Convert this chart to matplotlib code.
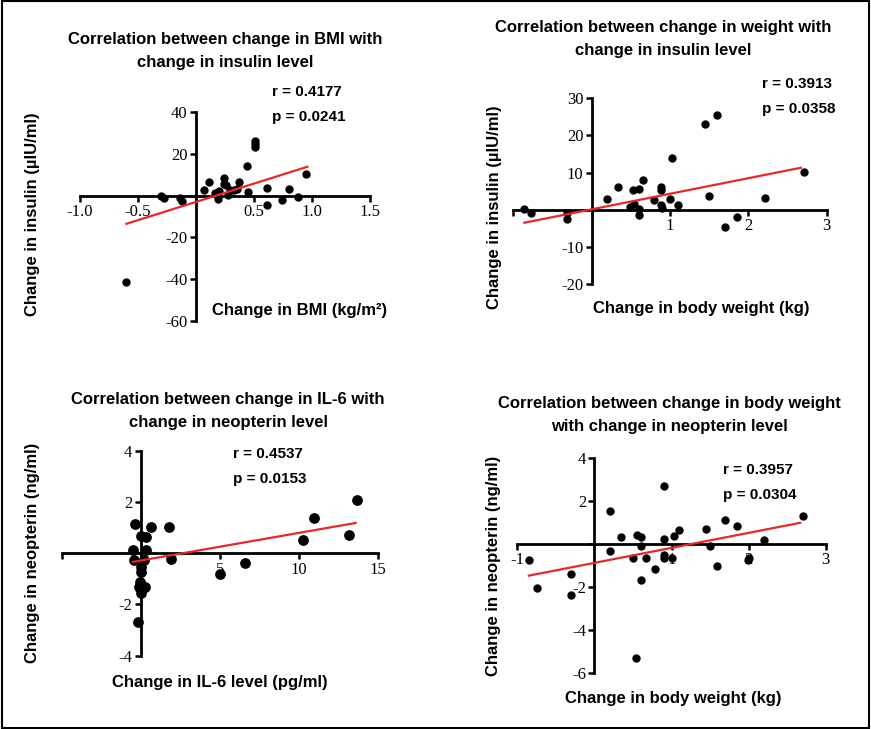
import matplotlib
matplotlib.use("Agg")
import matplotlib.pyplot as plt
from matplotlib.patches import Rectangle

# Panel A: change in BMI vs change in insulin
bmi_x = [-0.60, -0.30, -0.28, -0.14, -0.12, 0.07, 0.11, 0.16, 0.20, 0.19,
         0.24, 0.24, 0.26, 0.28, 0.29, 0.33, 0.35, 0.37, 0.44, 0.45,
         0.51, 0.51, 0.51, 0.61, 0.61, 0.74, 0.80, 0.88, 0.95]
bmi_y = [-41.2, 0.0, -1.0, -1.0, -2.4, 2.9, 6.4, 1.3, 2.4, -1.4,
         8.5, 5.6, 5.3, 0.5, 2.9, 2.9, 3.2, 6.4, 14.1, 1.8,
         26.1, 24.8, 23.4, 3.7, -4.6, -1.9, 3.2, -0.8, 10.4]
bmi_fit_x = [-0.60, 0.96]
bmi_fit_y = [-13.5, 13.8]

# Panel B: change in body weight vs change in insulin
wt_x = [-0.86, -0.77, -0.31, -0.31, 0.20, 0.34, 0.49, 0.53, 0.54, 0.60,
        0.60, 0.60, 0.66, 0.80, 0.89, 0.89, 0.89, 0.90, 1.00, 1.03,
        1.10, 1.45, 1.50, 1.60, 1.70, 1.85, 2.21, 2.71]
wt_y = [0.1, -1.0, -1.0, -2.5, 2.9, 6.1, 0.7, 5.2, 1.5, 5.6,
        0.2, -1.4, 8.1, 2.7, 6.1, 5.3, 1.3, 0.5, 2.8, 13.8,
        1.3, 23.2, 3.6, 25.5, -4.6, -2.0, 3.1, 10.1]
wt_fit_x = [-0.86, 2.67]
wt_fit_y = [-3.5, 11.3]

# Panel C: change in IL-6 vs change in neopterin
il6_x = [-0.38, -0.49, -0.40, 0.00, 0.34, 0.65, 0.34, 0.19, 0.00, 0.00,
         -0.02, -0.13, 0.25, 0.00, -0.17, 1.77, 1.90, 5.00, 6.62, 10.27,
         10.95, 13.20, 13.70]
il6_y = [1.13, 0.12, -0.27, 0.66, 0.64, 1.03, 0.14, -0.27, -0.53, -0.73,
         -1.12, -1.31, -1.31, -1.55, -2.68, 1.03, -0.21, -0.82, -0.40, 0.51,
         1.39, 0.70, 2.09]
il6_fit_x = [-0.49, 13.6]
il6_fit_y = [-0.34, 1.18]

# Panel D: change in body weight vs change in neopterin
wn_x = [-0.85, -0.75, -0.30, -0.30, 0.20, 0.20, 0.35, 0.50, 0.55, 0.60,
        0.60, 0.60, 0.54, 0.67, 0.79, 0.90, 0.90, 0.90, 0.90, 1.00,
        1.03, 1.10, 1.45, 1.50, 1.59, 1.70, 1.85, 1.99, 2.00, 2.20, 2.70]
wn_y = [-0.73, -2.04, -1.41, -2.35, 1.53, -0.33, 0.31, -0.63, 0.40, 0.33,
        -0.11, -1.66, -5.28, -0.63, -1.15, 2.69, 0.25, -0.50, -0.63, -0.63,
        0.37, 0.63, 0.71, -0.11, -1.04, 1.13, 0.82, -0.74, -0.67, 0.20, 1.30]
wn_fit_x = [-0.85, 2.67]
wn_fit_y = [-1.47, 0.98]

W, H = 871, 729
sans = "Liberation Sans"
serif = "Liberation Serif"
rot = "#e8262b"

fig = plt.figure(figsize=(W / 100, H / 100), dpi=100)
fig.patches.append(Rectangle((0.002, 0.002), 0.996, 0.996, transform=fig.transFigure,
                             fill=False, edgecolor="black", linewidth=1.5))


def px(x, y):
    return x / W, 1 - y / H


def panel(box, x, y, fx, fy, xlim, ylim, xt, xtl, yt, ytl, msize, title, tpos,
          xlab, xlpos, ylab, ylpos, rtxt, rpos):
    x0, y0, x1, y1 = box
    ax = fig.add_axes([x0 / W, 1 - y1 / H, (x1 - x0) / W, (y1 - y0) / H])
    ax.set_xlim(*xlim)
    ax.set_ylim(*ylim)
    for s in ["top", "right"]:
        ax.spines[s].set_visible(False)
    for s in ["left", "bottom"]:
        ax.spines[s].set_position(("data", 0))
        ax.spines[s].set_linewidth(2)
    ax.set_xticks(xt)
    ax.set_xticklabels(xtl)
    ax.set_yticks(yt)
    ax.set_yticklabels(ytl)
    ax.tick_params(direction="out", length=4, width=1.8, pad=2, labelsize=12)
    for lab in ax.get_xticklabels() + ax.get_yticklabels():
        lab.set_fontfamily(serif)
    ax.patch.set_visible(False)
    ax.scatter(x, y, s=msize, color="black", zorder=3, clip_on=False)
    ax.plot(fx, fy, color=rot, linewidth=1.6, zorder=4)

    fig.text(*px(*tpos), title, ha="center", va="center", fontfamily=sans,
             fontweight="bold", fontsize=12, linespacing=1.7)
    fig.text(*px(*xlpos), xlab, ha="center", va="center", fontfamily=sans,
             fontweight="bold", fontsize=12)
    fig.text(*px(*ylpos), ylab, ha="center", va="center", rotation=90,
             fontfamily=sans, fontweight="bold", fontsize=12)
    fig.text(*px(*rpos), rtxt, ha="left", va="center", fontfamily=sans,
             fontweight="bold", fontsize=11, linespacing=2.0)
    return ax


panel((80, 112, 370, 321), bmi_x, bmi_y, bmi_fit_x, bmi_fit_y,
      (-1.0, 1.5), (-60, 40),
      [-1.0, -0.5, 0, 0.5, 1.0, 1.5], ["-1.0", "-0.5", "", "0.5", "1.0", "1.5"],
      [-60, -40, -20, 0, 20, 40], ["-60", "-40", "-20", "", "20", "40"], 25,
      "Correlation between change in BMI with\nchange in insulin level", (225, 51),
      "Change in BMI (kg/m²)", (300, 311),
      "Change in insulin (µIU/ml)", (33, 214),
      "r = 0.4177\np = 0.0241", (272, 105))

panel((513.4, 98.3, 826.7, 284), wt_x, wt_y, wt_fit_x, wt_fit_y,
      (-1, 3), (-20, 30),
      [-1, 0, 1, 2, 3], ["", "", "1", "2", "3"],
      [-20, -10, 0, 10, 20, 30], ["-20", "-10", "", "10", "20", "30"], 25,
      "Correlation between change in weight with\nchange in insulin level", (663, 39),
      "Change in body weight (kg)", (701, 309),
      "Change in insulin (µIU/ml)", (495, 207),
      "r = 0.3913\np = 0.0358", (762, 97))

panel((61.7, 450.7, 377.7, 655.7), il6_x, il6_y, il6_fit_x, il6_fit_y,
      (-5, 15), (-4, 4),
      [-5, 0, 5, 10, 15], ["", "", "5", "10", "15"],
      [-4, -2, 0, 2, 4], ["-4", "-2", "", "2", "4"], 45,
      "Correlation between change in IL-6 with\nchange in neopterin level", (228, 411),
      "Change in IL-6 level (pg/ml)", (220, 683),
      "Change in neopterin (ng/ml)", (33, 553),
      "r = 0.4537\np = 0.0153", (233, 467))

panel((517.3, 457.7, 825.7, 673.3), wn_x, wn_y, wn_fit_x, wn_fit_y,
      (-1, 3), (-6, 4),
      [-1, 0, 1, 2, 3], ["-1", "", "1", "2", "3"],
      [-6, -4, -2, 0, 2, 4], ["-6", "-4", "-2", "", "2", "4"], 25,
      "Correlation between change in body weight\nwith change in neopterin level", (669, 415),
      "Change in body weight (kg)", (673, 699),
      "Change in neopterin (ng/ml)", (493, 566),
      "r = 0.3957\np = 0.0304", (723, 482))

fig.savefig("out.png", dpi=100)
